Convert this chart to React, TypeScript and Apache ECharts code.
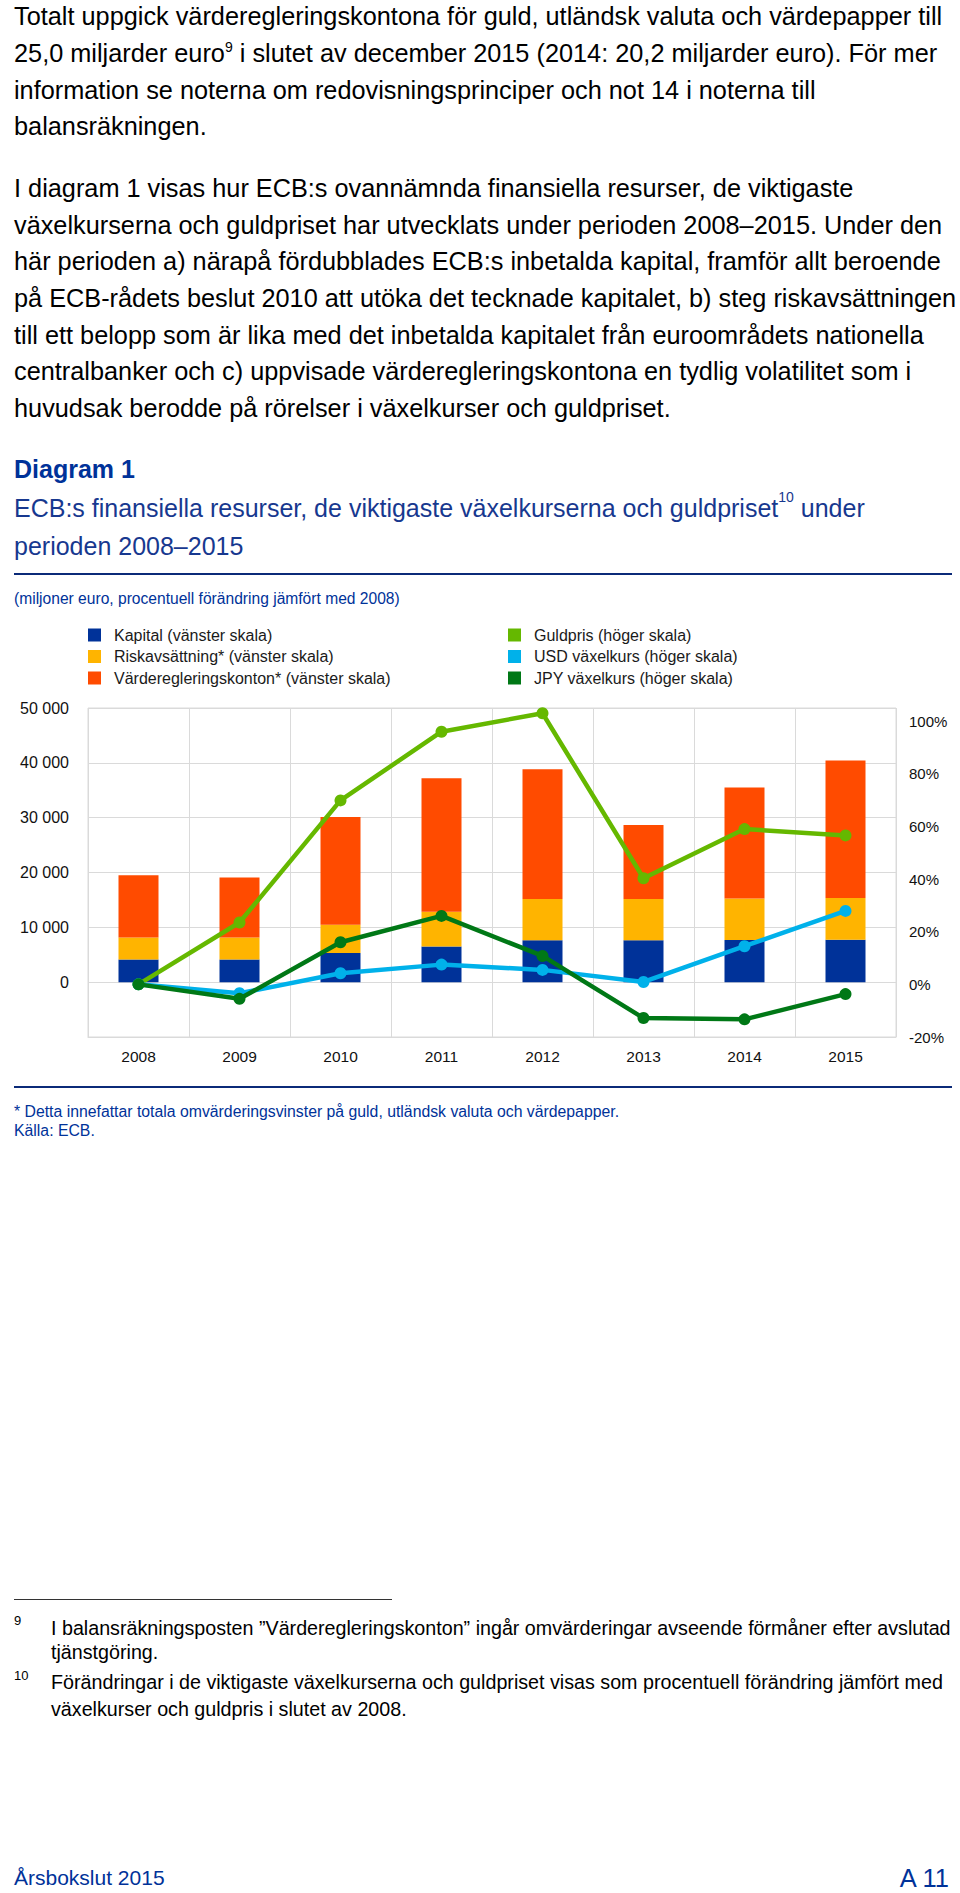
import React, { useEffect, useRef } from 'react';
import * as echarts from 'echarts';

// ---------- data ----------
const years = ['2008', '2009', '2010', '2011', '2012', '2013', '2014', '2015'];
const kapital = [4137, 4142, 5305, 6484, 7650, 7653, 7697, 7740];
const riskavsattning = [4014, 4020, 5184, 6363, 7529, 7530, 7575, 7620];
const vardereglering = [11353, 10915, 19626, 24324, 23662, 13500, 20230, 25050];
const guldpris = [0, 23.5, 69.9, 96.0, 103.0, 40.3, 59.0, 56.6];
const usdKurs = [0, -3.4, 4.2, 7.5, 5.5, 0.9, 14.5, 27.9];
const jpyKurs = [0, -5.5, 16.0, 26.0, 10.8, -12.8, -13.3, -3.7];

const seriesNames = [
  'Kapital (vänster skala)',
  'Riskavsättning* (vänster skala)',
  'Värderegleringskonton* (vänster skala)',
  'Guldpris (höger skala)',
  'USD växelkurs (höger skala)',
  'JPY växelkurs (höger skala)',
];
const seriesColors = ['#003299', '#FFB400', '#FF4B00', '#65B800', '#00B1EA', '#007816'];

const leftAxisRange = { min: -10000, max: 50000, interval: 10000 };
const rightAxisRange = { min: -20, max: 105, interval: 20 };

const FONT = '"Liberation Sans", Arial, Helvetica, sans-serif';
const BLUE = '#003299';

const para1 = [
  'Totalt uppgick värderegleringskontona för guld, utländsk valuta och värdepapper till',
  '__SUP9__',
  'information se noterna om redovisningsprinciper och not 14 i noterna till',
  'balansräkningen.',
];
const para1Y = [16, 53, 90, 126];
const para2 = [
  'I diagram 1 visas hur ECB:s ovannämnda finansiella resurser, de viktigaste',
  'växelkurserna och guldpriset har utvecklats under perioden 2008–2015. Under den',
  'här perioden a) närapå fördubblades ECB:s inbetalda kapital, framför allt beroende',
  'på ECB-rådets beslut 2010 att utöka det tecknade kapitalet, b) steg riskavsättningen',
  'till ett belopp som är lika med det inbetalda kapitalet från euroområdets nationella',
  'centralbanker och c) uppvisade värderegleringskontona en tydlig volatilitet som i',
  'huvudsak berodde på rörelser i växelkurser och guldpriset.',
];
const para2Y = [188, 225, 261, 298, 335, 371, 408];

function fmtThousands(v: number): string {
  return String(v).replace(/\B(?=(\d{3})+(?!\d))/g, ' ');
}

function Chart() {
  const ref = useRef<HTMLDivElement>(null);
  useEffect(() => {
    if (!ref.current) return;
    const chart = echarts.init(ref.current, null, { renderer: 'svg' });
    const legendText = { fontSize: 16, color: '#1a1a1a', fontFamily: FONT, padding: [0, 0, 0, 8] };
    const option: any = {
      animation: false,
      textStyle: { fontFamily: FONT },
      color: seriesColors,
      grid: {
        left: 88,
        right: 64,
        top: 258,
        bottom: 113,
        show: true,
        borderColor: '#dadada',
        borderWidth: 1,
        containLabel: false,
      },
      legend: [
        {
          data: seriesNames.slice(0, 3),
          orient: 'vertical',
          left: 88,
          top: 177,
          padding: 0,
          itemGap: 5.5,
          itemWidth: 13,
          itemHeight: 13,
          icon: 'rect',
          selectedMode: false,
          itemStyle: { borderWidth: 0 },
          textStyle: legendText,
        },
        {
          data: seriesNames.slice(3, 6),
          orient: 'vertical',
          left: 508,
          top: 177,
          padding: 0,
          itemGap: 5.5,
          itemWidth: 13,
          itemHeight: 13,
          icon: 'rect',
          selectedMode: false,
          itemStyle: { borderWidth: 0 },
          textStyle: legendText,
        },
      ],
      xAxis: {
        type: 'category',
        data: years,
        axisLine: { show: true, onZero: false, lineStyle: { color: '#dadada' } },
        axisTick: { show: false },
        splitLine: { show: true, interval: 0, lineStyle: { color: '#dadada' } },
        axisLabel: { fontSize: 15.5, color: '#111', margin: 11, fontFamily: FONT },
      },
      yAxis: [
        {
          type: 'value',
          min: leftAxisRange.min,
          max: leftAxisRange.max,
          interval: leftAxisRange.interval,
          axisLine: { show: false },
          axisTick: { show: false },
          splitLine: { show: true, lineStyle: { color: '#dadada' } },
          axisLabel: {
            fontSize: 16,
            color: '#111',
            margin: 19,
            fontFamily: FONT,
            formatter: (v: number) => (v < 0 ? '' : fmtThousands(v)),
          },
        },
        {
          type: 'value',
          position: 'right',
          min: rightAxisRange.min,
          max: rightAxisRange.max,
          interval: rightAxisRange.interval,
          axisLine: { show: false },
          axisTick: { show: false },
          splitLine: { show: false },
          axisLabel: {
            fontSize: 15,
            color: '#111',
            margin: 13,
            fontFamily: FONT,
            formatter: (v: number) => (v % 20 === 0 ? v + '%' : ''),
          },
        },
      ],
      series: [
        { name: seriesNames[0], type: 'bar', stack: 'res', barWidth: 40, data: kapital, itemStyle: { color: seriesColors[0] } },
        { name: seriesNames[1], type: 'bar', stack: 'res', barWidth: 40, data: riskavsattning, itemStyle: { color: seriesColors[1] } },
        { name: seriesNames[2], type: 'bar', stack: 'res', barWidth: 40, data: vardereglering, itemStyle: { color: seriesColors[2] } },
        ...[guldpris, usdKurs, jpyKurs].map((d, i) => ({
          name: seriesNames[3 + i],
          type: 'line',
          yAxisIndex: 1,
          data: d,
          symbol: 'circle',
          symbolSize: 12,
          lineStyle: { width: 4.5, color: seriesColors[3 + i] },
          itemStyle: { color: seriesColors[3 + i], borderWidth: 0 },
          z: 3 + i,
        })),
      ],
      graphic: [
        {
          type: 'text',
          left: 14,
          top: 6,
          style: { text: 'Diagram 1', font: `bold 25px ${FONT}`, fill: BLUE },
        },
        {
          type: 'text',
          left: 14,
          top: 39.7,
          style: {
            text:
              '{a|ECB:s finansiella resurser, de viktigaste växelkurserna och guldpriset}{s|10}{a| under}\n{a|perioden 2008–2015}',
            rich: {
              a: { fontSize: 25, lineHeight: 37.4, fill: '#17388f', color: '#17388f', fontFamily: FONT },
              s: { fontSize: 14, lineHeight: 20, verticalAlign: 'top', fill: '#17388f', color: '#17388f', fontFamily: FONT },
            },
          },
        },
        {
          type: 'line',
          shape: { x1: 14, y1: 124, x2: 952, y2: 124 },
          style: { stroke: '#0b2a78', lineWidth: 2 },
        },
        {
          type: 'text',
          left: 14,
          top: 140,
          style: { text: '(miljoner euro, procentuell förändring jämfört med 2008)', font: `15.6px ${FONT}`, fill: BLUE },
        },
        {
          type: 'line',
          shape: { x1: 14, y1: 637, x2: 952, y2: 637 },
          style: { stroke: '#0b2a78', lineWidth: 2 },
        },
        {
          type: 'text',
          left: 14,
          top: 653,
          style: {
            text: '* Detta innefattar totala omvärderingsvinster på guld, utländsk valuta och värdepapper.',
            font: `15.8px ${FONT}`,
            fill: BLUE,
          },
        },
        {
          type: 'text',
          left: 14,
          top: 672,
          style: { text: 'Källa: ECB.', font: `15.8px ${FONT}`, fill: BLUE },
        },
      ],
    };
    chart.setOption(option);
    return () => chart.dispose();
  }, []);
  return <div ref={ref} style={{ position: 'absolute', left: 0, top: 450, width: 960, height: 700 }} />;
}

function Line({ y, x = 14, size, children, color = '#000', lh = 32 }: any) {
  return (
    <div
      style={{
        position: 'absolute',
        left: x,
        top: y - lh / 2,
        height: lh,
        lineHeight: lh + 'px',
        fontSize: size,
        color,
        whiteSpace: 'nowrap',
        fontFamily: FONT,
      }}
    >
      {children}
    </div>
  );
}

export default function App() {
  const BODY = 25.3;
  const FN = 19.7;
  return (
    <div style={{ position: 'absolute', left: 0, top: 0, width: 960, height: 1893, background: '#fff', overflow: 'hidden', fontFamily: FONT }}>
      {para1.map((t, i) => (
        <Line key={'p1' + i} y={para1Y[i]} size={BODY}>
          {t === '__SUP9__' ? (
            <>
              25,0 miljarder euro
              <span style={{ fontSize: 14, position: 'relative', top: -10 }}>9</span> i slutet av december 2015 (2014: 20,2 miljarder euro). För mer
            </>
          ) : (
            t
          )}
        </Line>
      ))}
      {para2.map((t, i) => (
        <Line key={'p2' + i} y={para2Y[i]} size={BODY}>
          {t}
        </Line>
      ))}

      <Chart />

      <div style={{ position: 'absolute', left: 14, top: 1599, width: 378, height: 1, background: '#333' }} />
      <Line y={1621} size={13}>9</Line>
      <Line y={1628} x={51} size={FN}>
        I balansräkningsposten ”Värderegleringskonton” ingår omvärderingar avseende förmåner efter avslutad
      </Line>
      <Line y={1652} x={51} size={FN}>tjänstgöring.</Line>
      <Line y={1676} size={13}>10</Line>
      <Line y={1682} x={51} size={FN}>
        Förändringar i de viktigaste växelkurserna och guldpriset visas som procentuell förändring jämfört med
      </Line>
      <Line y={1709} x={51} size={FN}>växelkurser och guldpris i slutet av 2008.</Line>

      <Line y={1878} size={21} color={BLUE}>Årsbokslut 2015</Line>
      <div
        style={{
          position: 'absolute',
          right: 11,
          top: 1878 - 16,
          height: 32,
          lineHeight: '32px',
          fontSize: 25.5,
          color: BLUE,
          fontFamily: FONT,
          whiteSpace: 'nowrap',
        }}
      >
        A 11
      </div>
    </div>
  );
}
